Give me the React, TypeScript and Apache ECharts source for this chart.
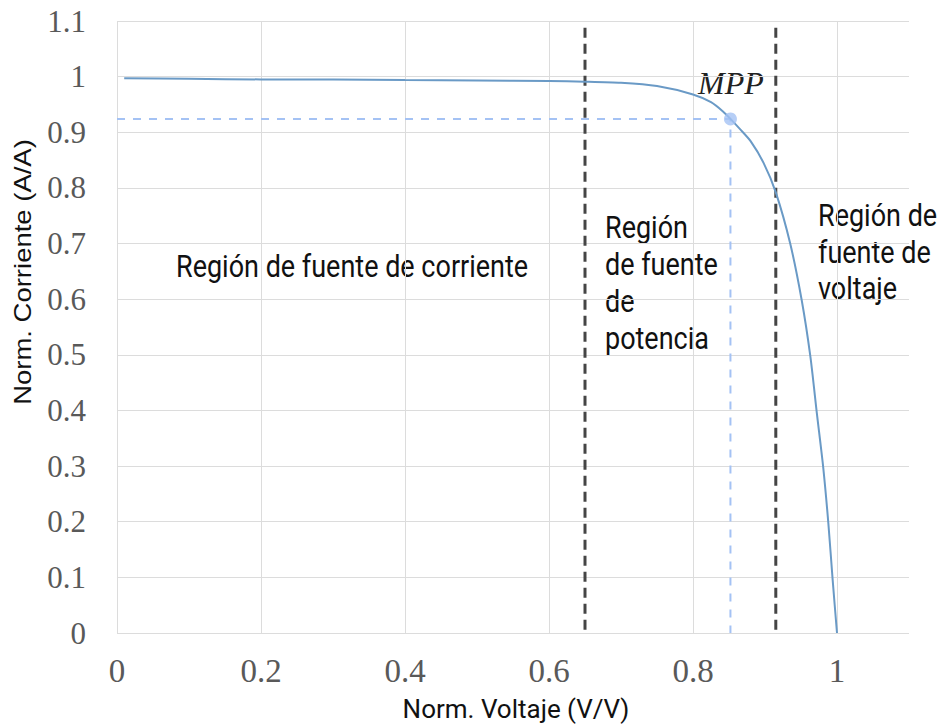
import React, { useEffect, useRef } from "react";
import * as echarts from "echarts";

// Normalized I-V curve
const voltage = [0.01, 0.1, 0.2, 0.3, 0.4, 0.5, 0.6, 0.65, 0.7, 0.75, 0.8, 0.825, 0.842, 0.852, 0.865, 0.88, 0.898, 0.915, 0.935, 0.951, 0.963, 0.972, 0.981, 0.988, 0.994, 1.0];
const current = [0.997, 0.996, 0.995, 0.995, 0.994, 0.993, 0.992, 0.991, 0.989, 0.983, 0.968, 0.954, 0.937, 0.924, 0.906, 0.884, 0.845, 0.792, 0.700, 0.598, 0.497, 0.395, 0.296, 0.197, 0.095, 0];

// Maximum power point
const mppVoltage = 0.852;
const mppCurrent = 0.924;

// Region boundaries (black dashed lines)
const boundaries = [0.65, 0.915];

const axisMin = 0;
const axisMax = 1.1;

const serif = '"Liberation Serif", "Times New Roman", serif';
const sans = 'Roboto, "Noto Sans", sans-serif';

export default function App() {
  const ref = useRef<HTMLDivElement>(null);

  useEffect(() => {
    if (!ref.current) return;
    const chart = echarts.init(ref.current, null, { renderer: "svg" });

    const curveData = voltage.map((v, i) => [v, current[i]]);
    const guideData = [
      [axisMin, mppCurrent],
      [mppVoltage, mppCurrent],
      [mppVoltage, axisMin],
    ];

    const boundarySeries = boundaries.map((b, k) => ({
      name: "boundary" + k,
      type: "line",
      data: [
        [b, 1.088],
        [b, axisMin],
      ],
      showSymbol: false,
      silent: true,
      lineStyle: { color: "#454545", width: 3, type: [10, 6] },
      z: 3,
    }));

    const fmt = (v: number) => String(+Number(v).toFixed(1));

    chart.setOption({
      animation: false,
      grid: { left: 117, top: 21, right: 30, bottom: 94, containLabel: false },
      xAxis: {
        type: "value",
        min: axisMin,
        max: axisMax,
        interval: 0.2,
        axisLine: { show: false },
        axisTick: { show: false },
        splitLine: { show: true, showMaxLine: false, lineStyle: { color: "#dcdcdc", width: 1 } },
        axisLabel: {
          showMaxLabel: false,
          formatter: (v: number) => (v > 1.05 ? "" : fmt(v)),
          fontFamily: serif,
          fontSize: 33,
          color: "#595959",
          margin: 21,
        },
      },
      yAxis: {
        type: "value",
        min: axisMin,
        max: axisMax,
        interval: 0.1,
        axisLine: { show: false },
        axisTick: { show: false },
        splitLine: { show: true, lineStyle: { color: "#dcdcdc", width: 1 } },
        axisLabel: {
          formatter: (v: number) => fmt(v),
          fontFamily: serif,
          fontSize: 31,
          color: "#595959",
          margin: 31,
        },
      },
      series: [
        ...boundarySeries,
        {
          name: "guide",
          type: "line",
          data: guideData,
          showSymbol: false,
          silent: true,
          lineStyle: { color: "#a4c2f4", width: 2, type: [8, 8] },
          z: 3,
        },
        {
          name: "I-V",
          type: "line",
          data: curveData,
          showSymbol: false,
          smooth: 0.25,
          lineStyle: { color: "#6a9ac6", width: 2 },
          z: 4,
        },
        {
          name: "MPP",
          type: "scatter",
          data: [[mppVoltage, mppCurrent]],
          symbolSize: 13,
          itemStyle: { color: "#a4c2f4" },
          z: 5,
        },
      ],
      graphic: [
        {
          type: "text",
          x: 176,
          y: 266,
          scaleY: 1.15,
          silent: true,
          style: {
            text: "Región de fuente de corriente",
            font: `27px ${sans}`,
            fill: "#111",
            align: "left",
            verticalAlign: "middle",
          },
        },
        {
          type: "text",
          x: 605,
          y: 283,
          scaleY: 1.15,
          silent: true,
          style: {
            text: "Región\nde fuente\nde\npotencia",
            font: `27px ${sans}`,
            lineHeight: 32,
            fill: "#111",
            align: "left",
            verticalAlign: "middle",
          },
        },
        {
          type: "text",
          x: 818,
          y: 252,
          scaleY: 1.15,
          silent: true,
          style: {
            text: "Región de\nfuente de\nvoltaje",
            font: `27px ${sans}`,
            lineHeight: 32,
            fill: "#111",
            align: "left",
            verticalAlign: "middle",
          },
        },
        {
          type: "text",
          x: 698,
          y: 83,
          silent: true,
          style: {
            text: "MPP",
            font: `italic 32px ${serif}`,
            fill: "#222",
            align: "left",
            verticalAlign: "middle",
          },
        },
        {
          type: "text",
          x: 516,
          y: 709,
          silent: true,
          style: {
            text: "Norm. Voltaje (V/V)",
            font: `26px ${sans}`,
            fill: "#111",
            align: "center",
            verticalAlign: "middle",
          },
        },
        {
          type: "text",
          x: 23,
          y: 272,
          rotation: Math.PI / 2,
          scaleX: 1.17,
          silent: true,
          style: {
            text: "Norm. Corriente (A/A)",
            font: `23.5px "Liberation Sans", Arial, sans-serif`,
            fill: "#111",
            align: "center",
            verticalAlign: "middle",
          },
        },
      ],
    });

    return () => chart.dispose();
  }, []);

  return (
    <div
      ref={ref}
      style={{ position: "absolute", left: 0, top: 0, width: 939, height: 727, background: "#fff" }}
    />
  );
}
